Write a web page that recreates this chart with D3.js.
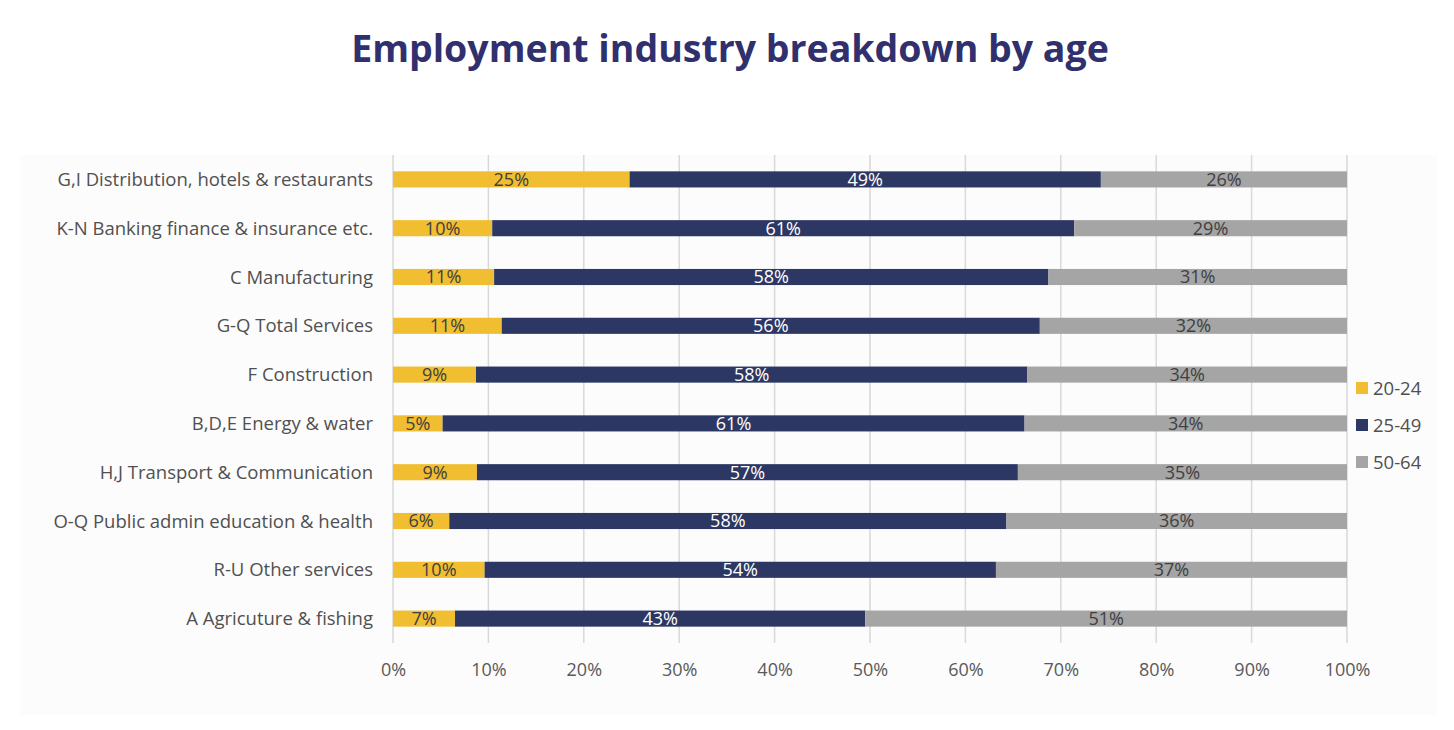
<!DOCTYPE html>
<html>
<head>
<meta charset="utf-8">
<script src="https://cdn.jsdelivr.net/npm/d3@7"></script>
<style>
  body { margin: 0; background: #fff; }
  svg { display: block; }
</style>
</head>
<body>
<svg id="chart" width="1454" height="730"></svg>
<script>
// data (percent shares per age group)
var industries = [
  "G,I Distribution, hotels & restaurants",
  "K-N Banking finance & insurance etc.",
  "C Manufacturing",
  "G-Q Total Services",
  "F Construction",
  "B,D,E Energy & water",
  "H,J Transport & Communication",
  "O-Q Public admin education & health",
  "R-U Other services",
  "A Agricuture & fishing"
];
var ages = ["20-24", "25-49", "50-64"];
var age2024 = [24.8, 10.4, 10.6, 11.4, 8.7, 5.2, 8.8, 5.9, 9.6, 6.5];
var age2549 = [49.4, 61.0, 58.1, 56.4, 57.8, 61.0, 56.7, 58.4, 53.6, 43.0];
var age5064 = [25.8, 28.6, 31.3, 32.2, 33.5, 33.8, 34.5, 35.7, 36.8, 50.5];
var ticks = [0, 10, 20, 30, 40, 50, 60, 70, 80, 90, 100];
var colors = ["#F0BE30", "#2C3863", "#A5A5A5"];
var labelColors = ["#404040", "#ffffff", "#404040"];

var svg = d3.select("#chart");

// faint panel behind the chart
svg.append("rect")
  .attr("x", 20).attr("y", 155).attr("width", 1417).attr("height", 560)
  .attr("fill", "#fcfcfc");

svg.append("text")
  .attr("x", 730).attr("y", 62)
  .attr("text-anchor", "middle")
  .attr("font-family", "'Open Sans', sans-serif")
  .attr("font-weight", "bold")
  .attr("font-size", 37.5)
  .attr("fill", "#30306E")
  .text("Employment industry breakdown by age");

var x = d3.scaleLinear().domain([0, 100]).range([393, 1347]);
var y = d3.scaleBand().domain(industries).range([155, 643]).paddingInner(0.67).paddingOuter(0.335);

// gridlines
svg.append("g").selectAll("line")
  .data(ticks)
  .enter().append("line")
  .attr("x1", function(d){ return x(d); })
  .attr("x2", function(d){ return x(d); })
  .attr("y1", 155).attr("y2", 643)
  .attr("stroke", "#d9d9d9")
  .attr("stroke-width", 1.5);

// stack the three series
var rows = industries.map(function(name, i){
  return { name: name, "20-24": age2024[i], "25-49": age2549[i], "50-64": age5064[i] };
});
var series = d3.stack().keys(ages)(rows);

var groups = svg.append("g").selectAll("g")
  .data(series)
  .enter().append("g");

groups.selectAll("rect")
  .data(function(s){ return s; })
  .enter().append("rect")
  .attr("x", function(d){ return x(d[0]); })
  .attr("y", function(d){ return y(d.data.name); })
  .attr("width", function(d){ return x(d[1]) - x(d[0]); })
  .attr("height", y.bandwidth())
  .attr("fill", function(d, i, n){ return colors[ages.indexOf(d3.select(n[i].parentNode).datum().key)]; });

groups.each(function(s, k){
  d3.select(this).selectAll("text")
    .data(s)
    .enter().append("text")
    .attr("x", function(d){ return x((d[0] + d[1]) / 2); })
    .attr("y", function(d){ return y(d.data.name) + y.bandwidth() / 2; })
    .attr("dy", "0.36em")
    .attr("text-anchor", "middle")
    .attr("font-family", "'Open Sans', sans-serif")
    .attr("font-size", 18)
    .attr("fill", labelColors[k])
    .text(function(d){ return Math.round(d[1] - d[0]) + "%"; });
});

// category labels
svg.append("g").selectAll("text")
  .data(industries)
  .enter().append("text")
  .attr("x", 373)
  .attr("y", function(d){ return y(d) + y.bandwidth() / 2; })
  .attr("dy", "0.36em")
  .attr("text-anchor", "end")
  .attr("font-family", "'Open Sans', sans-serif")
  .attr("font-size", 18.5)
  .attr("fill", "#505050")
  .text(function(d){ return d; });

// x axis
var xAxis = svg.append("g")
  .attr("transform", "translate(0,643)")
  .call(d3.axisBottom(x).tickValues(ticks).tickSize(0).tickPadding(20)
    .tickFormat(function(d){ return d + "%"; }));
xAxis.select(".domain").remove();
xAxis.selectAll("text")
  .attr("font-family", "'Open Sans', sans-serif")
  .attr("font-size", 18)
  .attr("fill", "#595959");

// legend
var legend = svg.append("g").selectAll("g")
  .data(ages)
  .enter().append("g")
  .attr("transform", function(d, i){ return "translate(1356," + (388 + i * 37) + ")"; });
legend.append("rect")
  .attr("x", 0).attr("y", -6).attr("width", 12).attr("height", 12)
  .attr("fill", function(d, i){ return colors[i]; });
legend.append("text")
  .attr("x", 17).attr("dy", "0.36em")
  .attr("font-family", "'Open Sans', sans-serif")
  .attr("font-size", 18.5)
  .attr("fill", "#505050")
  .text(function(d){ return d; });
</script>
</body>
</html>
